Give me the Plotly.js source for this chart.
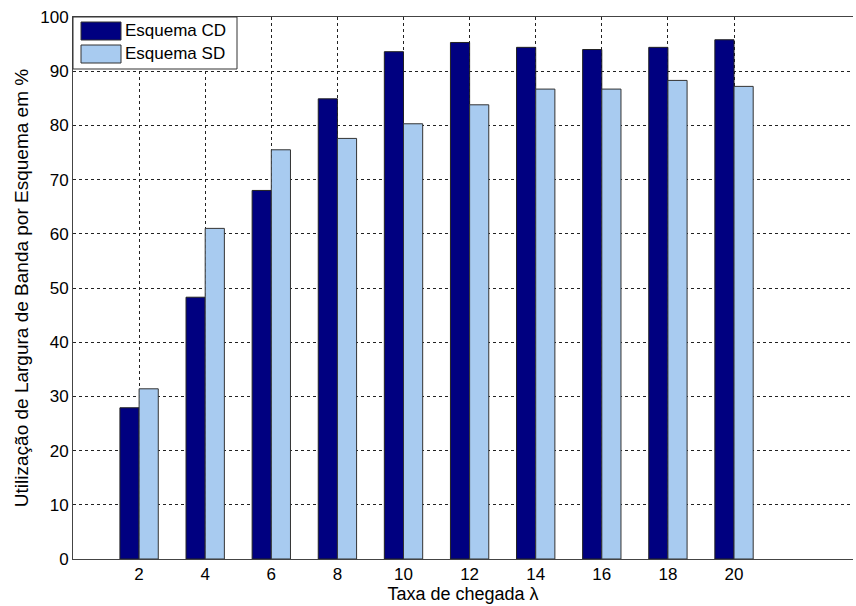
<!DOCTYPE html>
<html>
<head>
<meta charset="utf-8">
<script src="https://cdn.plot.ly/plotly-3.0.1.min.js"></script>
<style>html,body{margin:0;padding:0;background:#fff;overflow:hidden}</style>
</head>
<body>
<div id="chart" style="width:856px;height:606px"></div>
<script>
const categories = [2, 4, 6, 8, 10, 12, 14, 16, 18, 20];
const seriesCD = [27.9, 48.3, 68.0, 84.9, 93.6, 95.3, 94.4, 94.0, 94.4, 95.8];
const seriesSD = [31.4, 61.0, 75.5, 77.6, 80.3, 83.8, 86.7, 86.7, 88.3, 87.2];
const names = ['Esquema CD', 'Esquema SD'];
const colors = ['#000080', '#a8cbf0'];
const yTicks = [0, 10, 20, 30, 40, 50, 60, 70, 80, 90, 100];

const font = 'Liberation Sans, Arial, sans-serif';
const traces = [
  {type: 'bar', x: categories, y: seriesCD, name: names[0],
   marker: {color: colors[0], line: {color: '#222', width: 1}}},
  {type: 'bar', x: categories, y: seriesSD, name: names[1],
   marker: {color: colors[1], line: {color: '#333', width: 1}}}
];

const shapes = [];
const annotations = [];
// legend box (custom, to mimic large swatches)
shapes.push({type: 'rect', xref: 'paper', yref: 'paper', x0: 0, x1: 164/780, y0: 1, y1: 1 - 52/542,
  line: {color: '#333', width: 1}, fillcolor: '#fff', layer: 'above'});
names.forEach((n, i) => {
  const top = 5 + i * 23;
  shapes.push({type: 'rect', xref: 'paper', yref: 'paper',
    x0: 8/780, x1: 48/780, y0: 1 - top/542, y1: 1 - (top + 18)/542,
    fillcolor: colors[i], line: {color: '#333', width: 1}, layer: 'above'});
  annotations.push({xref: 'paper', yref: 'paper', x: 50/780, y: 1 - (top + 9)/542,
    xanchor: 'left', yanchor: 'middle', text: n, showarrow: false,
    font: {family: font, size: 17, color: '#000'}});
});

const layout = {
  width: 856, height: 606,
  margin: {l: 73, r: 3, t: 17, b: 47},
  paper_bgcolor: '#fff', plot_bgcolor: '#fff',
  barmode: 'group', bargap: 0.42, bargroupgap: 0,
  showlegend: false,
  font: {family: font, size: 17, color: '#000'},
  xaxis: {
    range: [0, 23.6], tickvals: categories, ticktext: categories.map(String),
    showline: true, linecolor: '#444', linewidth: 1, mirror: true,
    showgrid: true, gridcolor: '#222', griddash: 'dot', gridwidth: 1,
    zeroline: false, ticks: '', ticklen: 0,
    tickfont: {family: font, size: 17},
    title: {text: 'Taxa de chegada λ', font: {family: font, size: 18}, standoff: 2}
  },
  yaxis: {
    range: [0, 100], tickvals: yTicks, ticktext: yTicks.map(String),
    showline: true, linecolor: '#444', linewidth: 1, mirror: false,
    showgrid: true, gridcolor: '#222', griddash: 'dot', gridwidth: 1,
    zeroline: false, ticks: '', ticklen: 0,
    tickfont: {family: font, size: 17},
    title: {text: 'Utilização de Largura de Banda por Esquema em %', font: {family: font, size: 19}, standoff: 6}
  },
  shapes: shapes,
  annotations: annotations
};

Plotly.newPlot('chart', traces, layout, {displayModeBar: false, staticPlot: true});
</script>
</body>
</html>
